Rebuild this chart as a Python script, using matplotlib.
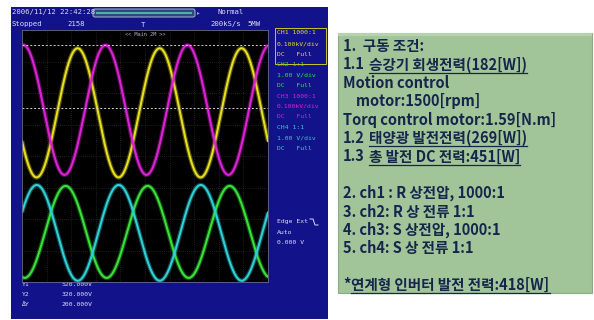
import numpy as np
import matplotlib
matplotlib.use("Agg")
import matplotlib.pyplot as plt
from matplotlib.patches import Rectangle, FancyBboxPatch

# ---- scope settings ----
time_per_div_ms = 5.0
n_div_x, n_div_y = 10, 8
line_freq_hz = 60.0

channels = ["CH1", "CH2", "CH3", "CH4"]
probe_ratio = ["1000:1", "1:1", "1000:1", "1:1"]
volt_per_div = ["0.100kV/div", "1.00 V/div", "0.100kV/div", "1.00 V/div"]
coupling = ["DC   Full", "DC   Full", "DC   Full", "DC   Full"]
trace_colors = ["#e6df1e", "#38e238", "#dd22d6", "#2fd0d6"]

# waveform parameters (display divisions / ms of first peak)
amplitude_div = [2.05, 1.46, 2.06, 1.52]
center_div = [1.37, -2.41, 1.46, -2.44]
first_peak_ms = [11.3, 8.87, 0.3, 3.0]

# cursor readout
cursor_names = ["Y1", "Y2", "\u0394Y"]
cursor_values_v = [520.0, 320.0, 200.0]
ch1_v_per_div = 100.0
ch1_zero_div = -1.68

header_left = ["2006/11/12 22:42:28", "Stopped"]
record_count = "2158"
sample_rate = "200kS/s"
record_len = "5MW"
trigger_lines = ["Edge Ext", "Auto", "0.000 V"]

notes = [
    ("1.  구동 조건:", None),
    ("1.1", "승강기 회생전력(182[W])"),
    ("Motion control", None),
    ("    motor:1500[rpm]", None),
    ("Torq control motor:1.59[N.m]", None),
    ("1.2", "태양광 발전전력(269[W])"),
    ("1.3", "총 발전 DC 전력:451[W]"),
    ("", None),
    ("2. ch1 : R 상전압, 1000:1", None),
    ("3. ch2: R 상 전류 1:1", None),
    ("4. ch3: S 상전압, 1000:1", None),
    ("5. ch4: S 상 전류 1:1", None),
    ("", None),
    ("*", "연계형 인버터 발전 전력:418[W]"),
]

W, H = 594, 320
fig = plt.figure(figsize=(W / 100, H / 100), dpi=100)
fig.patch.set_facecolor("white")

# full-figure pixel canvas
bg = fig.add_axes([0, 0, 1, 1])
bg.set_xlim(0, W)
bg.set_ylim(H, 0)
bg.axis("off")

scope_blue = "#12128a"
txt_col = "#dcdcf0"
mono = "DejaVu Sans Mono"

bg.add_patch(Rectangle((11, 7), 317, 312, facecolor=scope_blue, edgecolor="none"))

# header
hfs = 5.2
bg.text(12, 12, header_left[0], color=txt_col, fontsize=hfs, family=mono, va="center")
bg.text(12, 24, header_left[1], color=txt_col, fontsize=hfs, family=mono, va="center")
bg.text(67, 24, record_count, color=txt_col, fontsize=hfs, family=mono, va="center")
bg.text(210, 24, sample_rate, color=txt_col, fontsize=hfs, family=mono, va="center")
bg.text(247, 24, record_len, color=txt_col, fontsize=hfs, family=mono, va="center")
bg.text(218, 12, "Normal", color=txt_col, fontsize=hfs, family=mono, va="center")
bg.add_patch(FancyBboxPatch((93, 9), 102, 8, boxstyle="round,pad=0,rounding_size=2",
                            facecolor="#2a4a80", edgecolor="#9aa6c8", lw=0.8))
bg.add_patch(Rectangle((96, 11.8), 96, 2.6, facecolor="#4fb0a8", edgecolor="none"))
bg.text(197, 13, "\u25b8", color="#9aa6c8", fontsize=4, va="center")
bg.text(143, 25, "T", color=txt_col, fontsize=hfs, family=mono, va="center", ha="center")

# channel info column
cfs = 4.6
y0 = 33
for i, ch in enumerate(channels):
    lines = [f"{ch} {probe_ratio[i]}", volt_per_div[i], coupling[i]]
    for j, s in enumerate(lines):
        bg.text(277, y0 + i * 31.5 + j * 10.5, s, color=trace_colors[i],
                fontsize=cfs, family=mono, va="center")
bg.add_patch(Rectangle((275, 28), 51, 36, facecolor="none", edgecolor=trace_colors[0], lw=0.6))

for j, s in enumerate(trigger_lines):
    bg.text(277, 222 + j * 10.5, s, color=txt_col, fontsize=cfs, family=mono, va="center")
bg.plot([310, 313, 315, 318], [219, 219, 225, 225], color=txt_col, lw=0.7)

# cursor readout
for j, name in enumerate(cursor_names):
    bg.text(22, 284 + j * 10.5, name, color=txt_col, fontsize=cfs, family=mono, va="center")
    bg.text(93, 284 + j * 10.5, f"{cursor_values_v[j]:.3f}V", color=txt_col,
            fontsize=cfs, family=mono, va="center", ha="right")

# ---- scope screen ----
sc = fig.add_axes([22 / W, (H - 282) / H, 246 / W, 252 / H])
sc.set_facecolor("black")
sc.set_xlim(0, n_div_x)
sc.set_ylim(-n_div_y / 2, n_div_y / 2)
sc.set_xticks([])
sc.set_yticks([])
for s in sc.spines.values():
    s.set_color("#6a6a8a")
    s.set_linewidth(0.6)

for gx in range(1, n_div_x):
    sc.axvline(gx, color="#3c3c3c", lw=0.5, ls=(0, (1, 2)))
for gy in range(-n_div_y // 2 + 1, n_div_y // 2):
    sc.axhline(gy, color="#3c3c3c", lw=0.5, ls=(0, (1, 2)))

t_ms = np.linspace(0, n_div_x * time_per_div_ms, 2000)
x_div = t_ms / time_per_div_ms
period_ms = 1000.0 / line_freq_hz
for i in range(4):
    y = center_div[i] + amplitude_div[i] * np.cos(2 * np.pi * (t_ms - first_peak_ms[i]) / period_ms)
    sc.plot(x_div, y, color=trace_colors[i], lw=3.2, alpha=0.35, solid_capstyle="butt")
    sc.plot(x_div, y, color=trace_colors[i], lw=1.5)

for v in cursor_values_v[:2]:
    sc.axhline(v / ch1_v_per_div + ch1_zero_div, color="#d0d0d0", lw=0.7, ls=(0, (2, 2)))

sc.text(5, 3.86, "<< Main 2M >>", color="#b0b0c0", fontsize=3.8, family=mono,
        ha="center", va="center")

# ---- notes panel ----
bg.add_patch(Rectangle((338, 33), 254, 260, facecolor="#a2c499", edgecolor="#8cab85", lw=0.8))
bg.add_patch(Rectangle((338, 33), 254, 3, facecolor="#b7d3ae", edgecolor="none"))

note_col = "#15254c"
kfont = ["Noto Sans CJK KR", "DejaVu Sans"]
fs = 10.5
fig.canvas.draw()
renderer = fig.canvas.get_renderer()
inv = bg.transData.inverted()
line_y = 46
for prefix, under in notes:
    if prefix == "" and under is None:
        line_y += 18.4
        continue
    t0 = bg.text(343, line_y, prefix, fontsize=fs, family=kfont, weight="bold",
                 color=note_col, va="center")
    if under is not None:
        bb = t0.get_window_extent(renderer)
        x_end = inv.transform((bb.x1, bb.y0))[0]
        xs = x_end + (4 if prefix != "*" else 1)
        t1 = bg.text(xs, line_y, under, fontsize=fs, family=kfont, weight="bold",
                     color=note_col, va="center")
        bb1 = t1.get_window_extent(renderer)
        (ux0, uy), (ux1, _) = inv.transform([(bb1.x0, bb1.y0), (bb1.x1, bb1.y0)])
        bg.plot([ux0, ux1], [line_y + 8.2, line_y + 8.2], color=note_col, lw=0.9)
    line_y += 18.4

fig.savefig("out.png", dpi=100)
